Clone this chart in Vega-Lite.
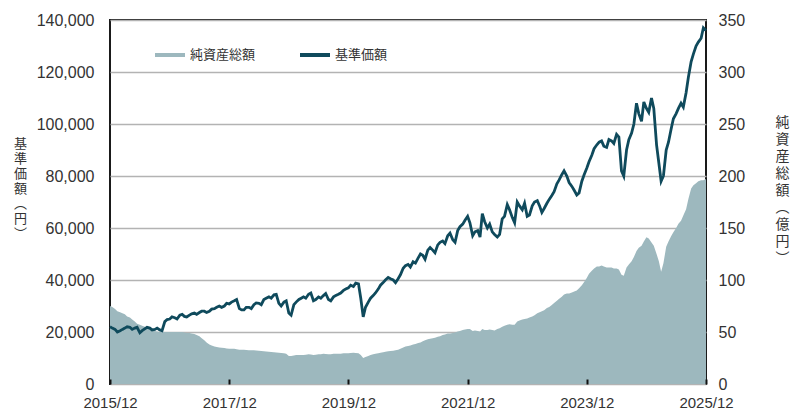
{
  "$schema": "https://vega.github.io/schema/vega-lite/v6.json",
  "width": 596,
  "height": 364,
  "autosize": "none",
  "padding": {"left": 110, "top": 20, "right": 89, "bottom": 28},
  "background": "white",
  "config": {
    "view": {"stroke": "#1a1a1a", "strokeWidth": 2},
    "axis": {"labelFont": "Liberation Sans", "labelColor": "#333333", "titleFont": "Noto Sans CJK JP", "titleColor": "#333333", "titleFontWeight": "normal", "domain": false}
  },
  "data": {"values": [
    {"d": "2015/12/01", "nav": 22000, "aum": 75},
    {"d": "2015/12/15", "nav": 21500, "aum": 74},
    {"d": "2016/01/01", "nav": 21000, "aum": 72},
    {"d": "2016/01/15", "nav": 20000, "aum": 70},
    {"d": "2016/02/01", "nav": 20500, "aum": 69},
    {"d": "2016/02/15", "nav": 21000, "aum": 68},
    {"d": "2016/03/01", "nav": 21500, "aum": 67},
    {"d": "2016/03/15", "nav": 22000, "aum": 65},
    {"d": "2016/04/01", "nav": 21800, "aum": 64},
    {"d": "2016/04/15", "nav": 21000, "aum": 62},
    {"d": "2016/05/01", "nav": 21500, "aum": 60},
    {"d": "2016/05/15", "nav": 21800, "aum": 58},
    {"d": "2016/06/01", "nav": 19700, "aum": 57},
    {"d": "2016/06/15", "nav": 20500, "aum": 56},
    {"d": "2016/07/01", "nav": 21200, "aum": 55},
    {"d": "2016/07/15", "nav": 21800, "aum": 54},
    {"d": "2016/08/01", "nav": 21500, "aum": 53},
    {"d": "2016/08/15", "nav": 20800, "aum": 52},
    {"d": "2016/09/01", "nav": 21000, "aum": 51},
    {"d": "2016/09/15", "nav": 21500, "aum": 50.5},
    {"d": "2016/10/01", "nav": 20800, "aum": 50},
    {"d": "2016/10/15", "nav": 20500, "aum": 50},
    {"d": "2016/11/01", "nav": 24000, "aum": 50},
    {"d": "2016/11/15", "nav": 24800, "aum": 50},
    {"d": "2016/12/01", "nav": 25000, "aum": 50},
    {"d": "2016/12/15", "nav": 25800, "aum": 50},
    {"d": "2017/01/01", "nav": 25500, "aum": 50},
    {"d": "2017/01/15", "nav": 25000, "aum": 50},
    {"d": "2017/02/01", "nav": 26500, "aum": 50},
    {"d": "2017/02/15", "nav": 26800, "aum": 50},
    {"d": "2017/03/01", "nav": 26000, "aum": 49.5},
    {"d": "2017/03/15", "nav": 25800, "aum": 49},
    {"d": "2017/04/01", "nav": 26500, "aum": 49},
    {"d": "2017/04/15", "nav": 27000, "aum": 48.5},
    {"d": "2017/05/01", "nav": 27300, "aum": 48},
    {"d": "2017/05/15", "nav": 26800, "aum": 47},
    {"d": "2017/06/01", "nav": 27500, "aum": 46},
    {"d": "2017/06/15", "nav": 28000, "aum": 44},
    {"d": "2017/07/01", "nav": 28000, "aum": 42},
    {"d": "2017/07/15", "nav": 27500, "aum": 40},
    {"d": "2017/08/01", "nav": 28000, "aum": 38},
    {"d": "2017/08/15", "nav": 28800, "aum": 37},
    {"d": "2017/09/01", "nav": 29000, "aum": 36},
    {"d": "2017/09/15", "nav": 29500, "aum": 35.5},
    {"d": "2017/10/01", "nav": 30000, "aum": 35},
    {"d": "2017/10/15", "nav": 29500, "aum": 34.8},
    {"d": "2017/11/01", "nav": 30000, "aum": 34.5},
    {"d": "2017/11/15", "nav": 31000, "aum": 34.2},
    {"d": "2017/12/01", "nav": 30800, "aum": 34},
    {"d": "2017/12/15", "nav": 31500, "aum": 34},
    {"d": "2018/01/01", "nav": 32000, "aum": 34},
    {"d": "2018/01/15", "nav": 32500, "aum": 33.5},
    {"d": "2018/02/01", "nav": 29000, "aum": 33},
    {"d": "2018/02/15", "nav": 28500, "aum": 33},
    {"d": "2018/03/01", "nav": 28500, "aum": 33},
    {"d": "2018/03/15", "nav": 29500, "aum": 32.8},
    {"d": "2018/04/01", "nav": 29500, "aum": 32.5},
    {"d": "2018/04/15", "nav": 29000, "aum": 32.5},
    {"d": "2018/05/01", "nav": 30500, "aum": 32.5},
    {"d": "2018/05/15", "nav": 31200, "aum": 32.3},
    {"d": "2018/06/01", "nav": 31000, "aum": 32},
    {"d": "2018/06/15", "nav": 30500, "aum": 31.8},
    {"d": "2018/07/01", "nav": 32500, "aum": 31.5},
    {"d": "2018/07/15", "nav": 33000, "aum": 31.2},
    {"d": "2018/08/01", "nav": 33500, "aum": 31},
    {"d": "2018/08/15", "nav": 33000, "aum": 30.8},
    {"d": "2018/09/01", "nav": 34300, "aum": 30.5},
    {"d": "2018/09/15", "nav": 34500, "aum": 30.3},
    {"d": "2018/10/01", "nav": 31000, "aum": 30},
    {"d": "2018/10/15", "nav": 30000, "aum": 29.8},
    {"d": "2018/11/01", "nav": 31500, "aum": 29.5},
    {"d": "2018/11/15", "nav": 32000, "aum": 29},
    {"d": "2018/12/01", "nav": 27300, "aum": 27},
    {"d": "2018/12/15", "nav": 26500, "aum": 27},
    {"d": "2019/01/01", "nav": 30500, "aum": 27.5},
    {"d": "2019/01/15", "nav": 31500, "aum": 27.8},
    {"d": "2019/02/01", "nav": 32500, "aum": 28},
    {"d": "2019/02/15", "nav": 33000, "aum": 28},
    {"d": "2019/03/01", "nav": 33500, "aum": 28},
    {"d": "2019/03/15", "nav": 33000, "aum": 28.2},
    {"d": "2019/04/01", "nav": 34500, "aum": 28.5},
    {"d": "2019/04/15", "nav": 35000, "aum": 28.3},
    {"d": "2019/05/01", "nav": 32000, "aum": 28},
    {"d": "2019/05/15", "nav": 32500, "aum": 28.2},
    {"d": "2019/06/01", "nav": 33500, "aum": 28.5},
    {"d": "2019/06/15", "nav": 33000, "aum": 28.7},
    {"d": "2019/07/01", "nav": 34000, "aum": 29},
    {"d": "2019/07/15", "nav": 34800, "aum": 28.8},
    {"d": "2019/08/01", "nav": 32500, "aum": 28.5},
    {"d": "2019/08/15", "nav": 32000, "aum": 28.6},
    {"d": "2019/09/01", "nav": 33500, "aum": 29},
    {"d": "2019/09/15", "nav": 34000, "aum": 29},
    {"d": "2019/10/01", "nav": 34500, "aum": 29},
    {"d": "2019/10/15", "nav": 35000, "aum": 29.2},
    {"d": "2019/11/01", "nav": 36000, "aum": 29.5},
    {"d": "2019/11/15", "nav": 36500, "aum": 29.5},
    {"d": "2019/12/01", "nav": 37000, "aum": 29.5},
    {"d": "2019/12/15", "nav": 38000, "aum": 29.8},
    {"d": "2020/01/01", "nav": 37500, "aum": 30},
    {"d": "2020/01/15", "nav": 38800, "aum": 29.8},
    {"d": "2020/02/01", "nav": 38500, "aum": 29.5},
    {"d": "2020/02/15", "nav": 33000, "aum": 28},
    {"d": "2020/03/01", "nav": 25800, "aum": 25},
    {"d": "2020/03/15", "nav": 29500, "aum": 26},
    {"d": "2020/04/01", "nav": 31500, "aum": 27},
    {"d": "2020/04/15", "nav": 33000, "aum": 27.8},
    {"d": "2020/05/01", "nav": 34000, "aum": 28.5},
    {"d": "2020/05/15", "nav": 35000, "aum": 29},
    {"d": "2020/06/01", "nav": 36500, "aum": 29.5},
    {"d": "2020/06/15", "nav": 38000, "aum": 30},
    {"d": "2020/07/01", "nav": 39000, "aum": 30.5},
    {"d": "2020/07/15", "nav": 40000, "aum": 31},
    {"d": "2020/08/01", "nav": 41000, "aum": 31.5},
    {"d": "2020/08/15", "nav": 40500, "aum": 31.8},
    {"d": "2020/09/01", "nav": 40000, "aum": 32},
    {"d": "2020/09/15", "nav": 39000, "aum": 32.5},
    {"d": "2020/10/01", "nav": 40500, "aum": 33},
    {"d": "2020/10/15", "nav": 42000, "aum": 34},
    {"d": "2020/11/01", "nav": 44500, "aum": 35},
    {"d": "2020/11/15", "nav": 45500, "aum": 36},
    {"d": "2020/12/01", "nav": 46000, "aum": 36.5},
    {"d": "2020/12/15", "nav": 45000, "aum": 37},
    {"d": "2021/01/01", "nav": 47000, "aum": 38},
    {"d": "2021/01/15", "nav": 46500, "aum": 38.5},
    {"d": "2021/02/01", "nav": 48500, "aum": 39.5},
    {"d": "2021/02/15", "nav": 50000, "aum": 40},
    {"d": "2021/03/01", "nav": 49500, "aum": 41},
    {"d": "2021/03/15", "nav": 48000, "aum": 42},
    {"d": "2021/04/01", "nav": 51500, "aum": 43},
    {"d": "2021/04/15", "nav": 52500, "aum": 43.5},
    {"d": "2021/05/01", "nav": 51500, "aum": 44},
    {"d": "2021/05/15", "nav": 50500, "aum": 44.5},
    {"d": "2021/06/01", "nav": 53500, "aum": 45.5},
    {"d": "2021/06/15", "nav": 54500, "aum": 46},
    {"d": "2021/07/01", "nav": 55000, "aum": 47},
    {"d": "2021/07/15", "nav": 54000, "aum": 47.5},
    {"d": "2021/08/01", "nav": 57000, "aum": 48.5},
    {"d": "2021/08/15", "nav": 58000, "aum": 48.5},
    {"d": "2021/09/01", "nav": 55500, "aum": 49},
    {"d": "2021/09/15", "nav": 54500, "aum": 49.5},
    {"d": "2021/10/01", "nav": 59000, "aum": 50.5},
    {"d": "2021/10/15", "nav": 60500, "aum": 51},
    {"d": "2021/11/01", "nav": 61500, "aum": 52},
    {"d": "2021/11/15", "nav": 63000, "aum": 52.5},
    {"d": "2021/12/01", "nav": 64500, "aum": 53},
    {"d": "2021/12/15", "nav": 62000, "aum": 53},
    {"d": "2022/01/01", "nav": 57000, "aum": 51},
    {"d": "2022/01/15", "nav": 58500, "aum": 51.5},
    {"d": "2022/02/01", "nav": 59000, "aum": 51},
    {"d": "2022/02/15", "nav": 56500, "aum": 50.5},
    {"d": "2022/03/01", "nav": 65500, "aum": 53},
    {"d": "2022/03/15", "nav": 62500, "aum": 52},
    {"d": "2022/04/01", "nav": 60000, "aum": 52},
    {"d": "2022/04/15", "nav": 61500, "aum": 52.5},
    {"d": "2022/05/01", "nav": 58500, "aum": 52},
    {"d": "2022/05/15", "nav": 57500, "aum": 51.5},
    {"d": "2022/06/01", "nav": 56500, "aum": 53},
    {"d": "2022/06/15", "nav": 57500, "aum": 53.5},
    {"d": "2022/07/01", "nav": 63500, "aum": 55},
    {"d": "2022/07/15", "nav": 64500, "aum": 56},
    {"d": "2022/08/01", "nav": 69000, "aum": 57},
    {"d": "2022/08/15", "nav": 67000, "aum": 57.5},
    {"d": "2022/09/01", "nav": 64000, "aum": 57},
    {"d": "2022/09/15", "nav": 62000, "aum": 57},
    {"d": "2022/10/01", "nav": 70000, "aum": 60},
    {"d": "2022/10/15", "nav": 68500, "aum": 61},
    {"d": "2022/11/01", "nav": 67000, "aum": 62},
    {"d": "2022/11/15", "nav": 69500, "aum": 62.5},
    {"d": "2022/12/01", "nav": 64500, "aum": 63},
    {"d": "2022/12/15", "nav": 65000, "aum": 64},
    {"d": "2023/01/01", "nav": 68500, "aum": 65},
    {"d": "2023/01/15", "nav": 70000, "aum": 66},
    {"d": "2023/02/01", "nav": 70500, "aum": 68},
    {"d": "2023/02/15", "nav": 68500, "aum": 69},
    {"d": "2023/03/01", "nav": 66000, "aum": 70},
    {"d": "2023/03/15", "nav": 67500, "aum": 71},
    {"d": "2023/04/01", "nav": 69500, "aum": 73},
    {"d": "2023/04/15", "nav": 71000, "aum": 74},
    {"d": "2023/05/01", "nav": 72500, "aum": 76},
    {"d": "2023/05/15", "nav": 74000, "aum": 78},
    {"d": "2023/06/01", "nav": 77000, "aum": 80},
    {"d": "2023/06/15", "nav": 78500, "aum": 82},
    {"d": "2023/07/01", "nav": 80500, "aum": 84},
    {"d": "2023/07/15", "nav": 82000, "aum": 86},
    {"d": "2023/08/01", "nav": 80000, "aum": 87},
    {"d": "2023/08/15", "nav": 77500, "aum": 87},
    {"d": "2023/09/01", "nav": 76000, "aum": 88},
    {"d": "2023/09/15", "nav": 74500, "aum": 89},
    {"d": "2023/10/01", "nav": 72700, "aum": 90},
    {"d": "2023/10/15", "nav": 73500, "aum": 92},
    {"d": "2023/11/01", "nav": 78000, "aum": 95},
    {"d": "2023/11/15", "nav": 80500, "aum": 98},
    {"d": "2023/12/01", "nav": 83000, "aum": 102},
    {"d": "2023/12/15", "nav": 85500, "aum": 106},
    {"d": "2024/01/01", "nav": 88000, "aum": 109},
    {"d": "2024/01/15", "nav": 90500, "aum": 111},
    {"d": "2024/02/01", "nav": 92000, "aum": 113},
    {"d": "2024/02/15", "nav": 93000, "aum": 113},
    {"d": "2024/03/01", "nav": 93500, "aum": 114},
    {"d": "2024/03/15", "nav": 91500, "aum": 113},
    {"d": "2024/04/01", "nav": 91000, "aum": 112},
    {"d": "2024/04/15", "nav": 94000, "aum": 112},
    {"d": "2024/05/01", "nav": 93500, "aum": 112},
    {"d": "2024/05/15", "nav": 92500, "aum": 111},
    {"d": "2024/06/01", "nav": 96000, "aum": 111},
    {"d": "2024/06/15", "nav": 95000, "aum": 110},
    {"d": "2024/07/01", "nav": 82000, "aum": 105},
    {"d": "2024/07/15", "nav": 80000, "aum": 104},
    {"d": "2024/08/01", "nav": 90000, "aum": 112},
    {"d": "2024/08/15", "nav": 94000, "aum": 115},
    {"d": "2024/09/01", "nav": 96500, "aum": 118},
    {"d": "2024/09/15", "nav": 100000, "aum": 122},
    {"d": "2024/10/01", "nav": 108000, "aum": 128},
    {"d": "2024/10/15", "nav": 104000, "aum": 131},
    {"d": "2024/11/01", "nav": 101000, "aum": 133},
    {"d": "2024/11/15", "nav": 108500, "aum": 137},
    {"d": "2024/12/01", "nav": 106000, "aum": 141},
    {"d": "2024/12/15", "nav": 104500, "aum": 140},
    {"d": "2025/01/01", "nav": 110000, "aum": 136},
    {"d": "2025/01/15", "nav": 106000, "aum": 133},
    {"d": "2025/02/01", "nav": 92000, "aum": 125},
    {"d": "2025/02/15", "nav": 85000, "aum": 118},
    {"d": "2025/03/01", "nav": 78000, "aum": 108},
    {"d": "2025/03/15", "nav": 80000, "aum": 116},
    {"d": "2025/04/01", "nav": 90000, "aum": 132},
    {"d": "2025/04/15", "nav": 93000, "aum": 137},
    {"d": "2025/05/01", "nav": 98000, "aum": 142},
    {"d": "2025/05/15", "nav": 102000, "aum": 146},
    {"d": "2025/06/01", "nav": 104000, "aum": 150},
    {"d": "2025/06/15", "nav": 106000, "aum": 154},
    {"d": "2025/07/01", "nav": 108000, "aum": 157},
    {"d": "2025/07/15", "nav": 106500, "aum": 162},
    {"d": "2025/08/01", "nav": 112000, "aum": 168},
    {"d": "2025/08/15", "nav": 118000, "aum": 178},
    {"d": "2025/09/01", "nav": 124000, "aum": 188},
    {"d": "2025/09/15", "nav": 127000, "aum": 191},
    {"d": "2025/10/01", "nav": 130000, "aum": 193},
    {"d": "2025/10/15", "nav": 131500, "aum": 195},
    {"d": "2025/11/01", "nav": 133000, "aum": 196},
    {"d": "2025/11/15", "nav": 137000, "aum": 196},
    {"d": "2025/12/01", "nav": 136000, "aum": 197}
  ]},
  "layer": [
    {
      "mark": {"type": "area", "opacity": 1},
      "encoding": {
        "x": {"field": "d", "type": "temporal",
          "scale": {"domain": [{"year": 2015, "month": 12, "date": 1}, {"year": 2025, "month": 12, "date": 1}]},
          "axis": {"values": [{"year": 2015, "month": 12, "date": 1}, {"year": 2017, "month": 12, "date": 1}, {"year": 2019, "month": 12, "date": 1}, {"year": 2021, "month": 12, "date": 1}, {"year": 2023, "month": 12, "date": 1}, {"year": 2025, "month": 12, "date": 1}],
            "format": "%Y/%m", "grid": false, "tickSize": -5, "tickColor": "#111111", "tickWidth": 2, "labelPadding": 16, "labelFontSize": 15, "title": null, "labelFlush": false, "zindex": 1}},
        "y": {"field": "aum", "type": "quantitative", "scale": {"domain": [0, 350], "nice": false},
          "axis": {"orient": "right", "values": [0, 50, 100, 150, 200, 250, 300, 350], "grid": false, "ticks": false, "labelPadding": 12, "labelFontSize": 16, "labelAlign": "left",
            "title": ["純", "資", "産", "総", "額", "︵", "億", "円", "︶"], "titleAngle": 0, "titleX": 76, "titleY": 95, "titleBaseline": "top", "titleAlign": "center", "titleFontSize": 14, "titleLineHeight": 17}},
        "color": {"datum": "純資産総額", "type": "nominal",
          "scale": {"domain": ["純資産総額", "基準価額"], "range": ["#9db8be", "#0f4a5c"]},
          "legend": {"orient": "none", "legendX": 43, "legendY": 18, "direction": "horizontal", "title": null, "symbolType": "stroke", "symbolSize": 900, "symbolStrokeWidth": 4, "labelFont": "Noto Sans CJK JP", "labelFontSize": 13, "labelColor": "#333333", "labelOffset": 3, "columnPadding": 36, "padding": 0,
            "encode": {"symbols": {"update": {"stroke": {"scale": "color", "field": "value"}}}}}}
      }
    },
    {
      "mark": {"type": "line", "strokeWidth": 2.8},
      "encoding": {
        "x": {"field": "d", "type": "temporal"},
        "y": {"field": "nav", "type": "quantitative", "scale": {"domain": [0, 140000], "nice": false},
          "axis": {"orient": "left", "values": [0, 20000, 40000, 60000, 80000, 100000, 120000, 140000], "format": ",.0f", "grid": true, "gridColor": "#b3b3b3", "gridWidth": 1.5, "ticks": false, "labelPadding": 16, "labelFontSize": 16,
            "title": ["基", "準", "価", "額", "︵", "円", "︶"], "titleAngle": 0, "titleX": -90, "titleY": 117, "titleBaseline": "top", "titleAlign": "center", "titleFontSize": 13, "titleLineHeight": 15}},
        "color": {"datum": "基準価額", "type": "nominal"}
      }
    }
  ],
  "resolve": {"scale": {"y": "independent"}}
}
